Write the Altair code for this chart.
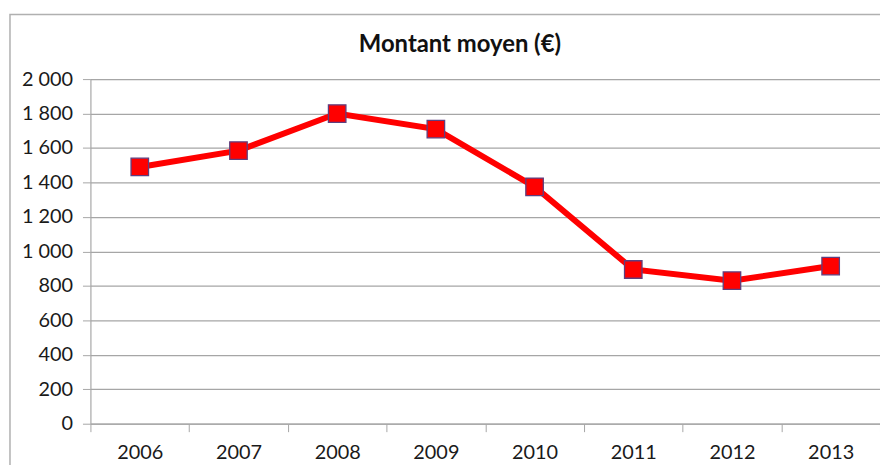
import altair as alt
import pandas as pd

title_text = ["Montant moyen (€)"]
years = ["2006", "2007", "2008", "2009", "2010", "2011", "2012", "2013"]
montant = [1490, 1585, 1800, 1710, 1375, 895, 830, 915]
y_ticks = [0, 200, 400, 600, 800, 1000, 1200, 1400, 1600, 1800, 2000]

df = pd.DataFrame({"annee": years, "montant": montant})

FONT = "Lato"
GRID = "#a6a6a6"

x_enc = alt.X(
    "annee:N",
    sort=years,
    title=None,
    scale=alt.Scale(paddingInner=0, paddingOuter=0),
    axis=alt.Axis(
        labelAngle=0,
        labelFont=FONT,
        labelFontSize=20,
        labelColor="#1a1a1a",
        labelPadding=11,
        tickBand="extent",
        tickSize=8,
        tickColor=GRID,
        domainColor=GRID,
        grid=False,
    ),
)
y_enc = alt.Y(
    "montant:Q",
    title=None,
    scale=alt.Scale(domain=[0, 2000], nice=False),
    axis=alt.Axis(
        values=y_ticks,
        labelOverlap=False,
        labelExpr="replace(format(datum.value, ','), ',', ' ')",
        labelFont=FONT,
        labelFontSize=20,
        labelColor="#1a1a1a",
        labelPadding=10,
        tickSize=8,
        tickColor=GRID,
        domainColor=GRID,
        gridColor=GRID,
        gridWidth=1.2,
        gridOpacity=1,
    ),
)

frame = alt.Chart(pd.DataFrame({"f": [0]})).mark_rect(
    fill=None, stroke="#b0b0b0", strokeWidth=1.5, clip=False
).encode(
    x=alt.value(-81), x2=alt.value(900), y=alt.value(-65), y2=alt.value(500)
)

title = alt.Chart(pd.DataFrame({"t": title_text})).mark_text(
    font=FONT, fontSize=24, fontWeight="bold", color="#111111",
    align="center", baseline="alphabetic"
).encode(x=alt.value(372), y=alt.value(-27), text="t:N")

line = alt.Chart(df).mark_line(color="#ff0000", strokeWidth=6).encode(x=x_enc, y=y_enc)
points = alt.Chart(df).mark_point(
    shape="square", filled=True, fill="#ff0000", stroke="#5e3f7f",
    strokeWidth=1.3, size=310, opacity=1
).encode(x=x_enc, y=y_enc)

chart = (
    alt.layer(frame, title, line, points)
    .properties(
        width=795,
        height=347,
        padding={"left": 83, "top": 70, "right": 0, "bottom": 40},
        autosize=alt.AutoSizeParams(type="none"),
    )
    .configure_view(stroke=None)
    .configure(background="white")
)

chart.save("out.html", embed_options={"renderer": "svg", "actions": False})
